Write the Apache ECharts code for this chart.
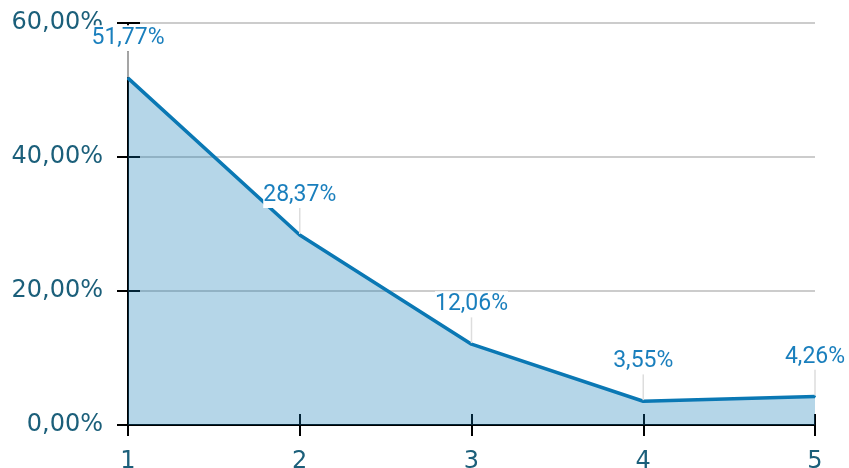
<!DOCTYPE html>
<html>
<head>
<meta charset="utf-8">
<script src="https://cdn.jsdelivr.net/npm/echarts@6/dist/echarts.min.js"></script>
<style>html,body{margin:0;padding:0;background:#fff;overflow:hidden;}#c{width:849px;height:468px;}</style>
</head>
<body>
<div id="c"></div>
<script>
var categories = ['1', '2', '3', '4', '5'];
var values = [51.77, 28.37, 12.06, 3.55, 4.26];
var yTicks = [0, 20, 40, 60];

function pct(v) { return v.toFixed(2).replace('.', ',') + '%'; }

var chart = echarts.init(document.getElementById('c'), null, {renderer: 'canvas', width: 849, height: 468});
var axisColor = '#1b5f7a';
var option = {
  animation: false,
  grid: {left: 128, right: 34, top: 23, bottom: 43, containLabel: false, outerBoundsMode: 'none'},
  xAxis: [{
    type: 'category', data: categories, boundaryGap: false, position: 'bottom',
    axisLine: {show: true, lineStyle: {color: '#000', width: 2}},
    axisTick: {show: true, length: 11, alignWithLabel: true, lineStyle: {color: '#000', width: 2}},
    axisLabel: {color: axisColor, fontFamily: 'DejaVu Sans', fontSize: 24, margin: 25},
    splitLine: {show: false}
  }, {
    type: 'category', data: categories, boundaryGap: false, position: 'bottom', offset: 0,
    axisLine: {show: false},
    axisTick: {show: true, inside: true, length: 11, lineStyle: {color: '#000', width: 2}},
    axisLabel: {show: false},
    splitLine: {show: false}
  }],
  yAxis: [{
    type: 'value', min: yTicks[0], max: yTicks[yTicks.length - 1], interval: 20, position: 'left',
    axisLine: {show: true, lineStyle: {color: '#000', width: 2}},
    axisTick: {show: true, length: 11, lineStyle: {color: '#000', width: 2}},
    axisLabel: {color: axisColor, fontFamily: 'DejaVu Sans', fontSize: 24, margin: 25, formatter: pct},
    splitLine: {show: true, lineStyle: {color: '#cccccc', width: 2}}
  }, {
    type: 'value', min: yTicks[0], max: yTicks[yTicks.length - 1], interval: 20, position: 'left', offset: 0,
    axisLine: {show: false},
    axisTick: {show: true, inside: true, length: 12, lineStyle: {color: '#000', width: 2}},
    axisLabel: {show: false},
    splitLine: {show: false}
  }],
  series: [{
    type: 'line',
    xAxisIndex: 0, yAxisIndex: 0,
    data: values,
    symbol: 'circle', symbolSize: 2, showSymbol: true,
    itemStyle: {color: '#0a78b4'},
    lineStyle: {color: '#0a78b4', width: 3.5},
    areaStyle: {color: '#0a78b4', opacity: 0.3},
    label: {
      show: true, position: 'top', distance: 5,
      formatter: function (p) { return pct(p.value); },
      color: '#1a7fbd', fontFamily: 'Roboto', fontSize: 23,
      backgroundColor: '#fff', padding: [2, 0, 1, 0]
    },
    labelLayout: {dy: -21},
    labelLine: {show: true, lineStyle: {color: '#dddddd', width: 1.5}}
  }]
};
chart.setOption(option);
</script>
</body>
</html>
